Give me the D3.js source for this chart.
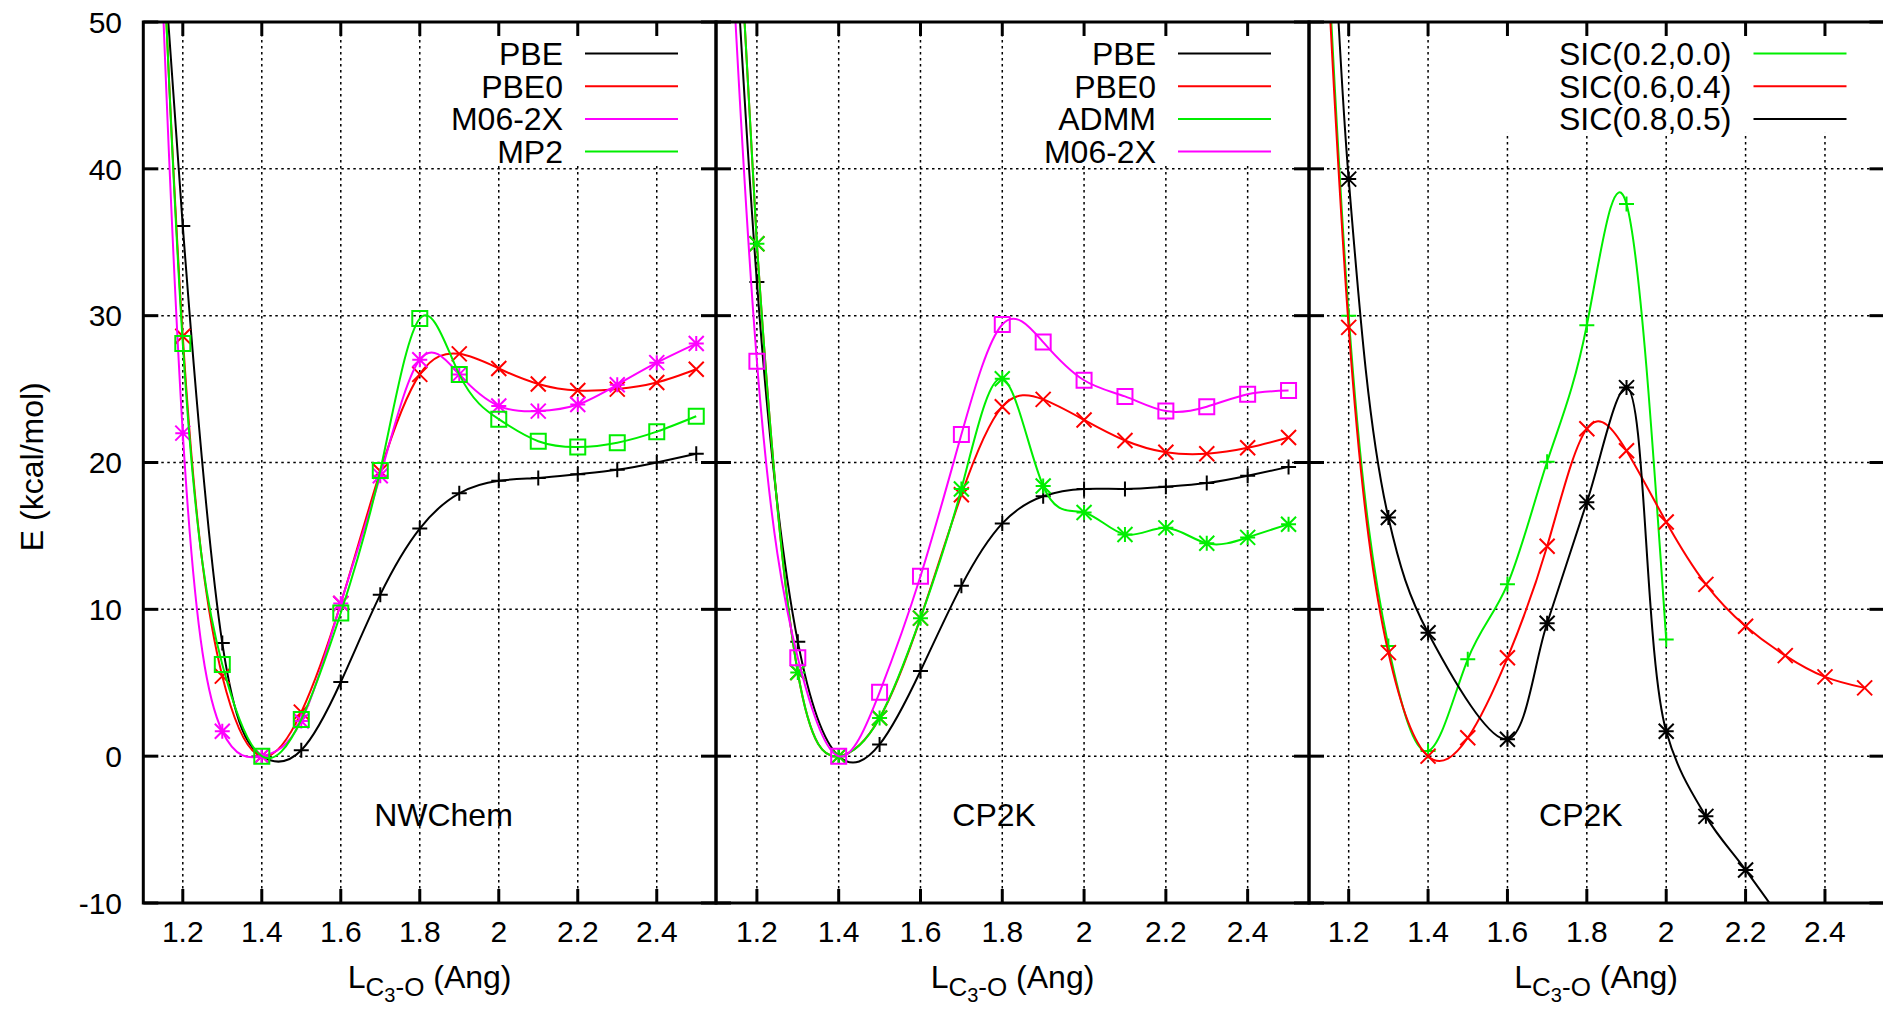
<!DOCTYPE html>
<html lang="en">
  <head>
    <meta charset="UTF-8"/>
    <title>C3-O scans</title>
    <script src="https://d3js.org/d3.v7.min.js"></script>
    <style>
        body {
          margin: 0;
          background: #fff;
        }
        text {
          font-family: "Liberation Sans", Arial, sans-serif;
          fill: #000;
        }
        .grid line {
          stroke: #000;
          stroke-width: 1.5;
          stroke-dasharray: 2.5, 3.5;
        }
        .frame {
          fill: none;
          stroke: #000;
          stroke-width: 3;
        }
        .tick {
          stroke: #000;
          stroke-width: 3;
        }
        .curve {
          fill: none;
          stroke-width: 2;
        }
        .marker {
          fill: none;
          stroke-width: 2;
        }
    </style>
  </head>
  <body>
    <script>
        // tick values and labels
        const xTicks = [1.2, 1.4, 1.6, 1.8, 2.0, 2.2, 2.4]
        const xTickLabels = ["1.2", "1.4", "1.6", "1.8", "2", "2.2", "2.4"]
        const yTicks = [-10, 0, 10, 20, 30, 40, 50]
        const yTickLabels = ["-10", "0", "10", "20", "30", "40", "50"]

        // bond lengths (Ang)
        const xFull = [1.1, 1.2, 1.3, 1.4, 1.5, 1.6, 1.7, 1.8, 1.9, 2.0, 2.1, 2.2, 2.3, 2.4, 2.5]
        const xTo20 = [1.1, 1.2, 1.3, 1.4, 1.5, 1.6, 1.7, 1.8, 1.9, 2.0]
        const xSic08 = [1.1, 1.2, 1.3, 1.4, 1.6, 1.7, 1.8, 1.9, 2.0, 2.1, 2.2, 2.3]

        // NWChem panel (kcal/mol)
        const nwPBE   = [74, 36.1, 7.7, 0, 0.4, 5.05, 11.0, 15.5, 17.9, 18.75, 18.95, 19.2, 19.5, 20.0, 20.6]
        const nwPBE0  = [88, 28.6, 5.45, 0, 3.0, 10.4, 19.4, 26.0, 27.4, 26.4, 25.35, 24.9, 25.0, 25.45, 26.35]
        const nwM062X = [88, 22.0, 1.7, 0, 2.4, 10.4, 19.1, 27.0, 26.0, 23.85, 23.5, 23.95, 25.3, 26.8, 28.1]
        const nwMP2   = [90, 28.1, 6.25, 0, 2.5, 9.75, 19.45, 29.8, 26.0, 22.95, 21.45, 21.05, 21.35, 22.1, 23.15]

        // CP2K panel
        const cpPBE   = [80, 32.3, 7.8, 0, 0.8, 5.8, 11.6, 15.85, 17.7, 18.2, 18.2, 18.35, 18.6, 19.1, 19.7]
        const cpPBE0  = [85, 34.9, 5.7, 0, 2.6, 9.4, 17.8, 23.8, 24.3, 22.9, 21.5, 20.7, 20.6, 21.0, 21.7]
        const cpADMM  = [85, 34.9, 5.7, 0, 2.6, 9.4, 18.2, 25.7, 18.4, 16.6, 15.1, 15.55, 14.5, 14.9, 15.8]
        const cpM062X = [76, 26.9, 6.7, 0, 4.35, 12.25, 21.9, 29.4, 28.2, 25.6, 24.5, 23.5, 23.8, 24.65, 24.9]

        // CP2K SIC panel
        const sic02 = [82, 30.0, 7.5, 0.35, 6.6, 11.7, 20.05, 29.35, 37.6, 7.95]
        const sic06 = [80, 29.2, 7.05, 0, 1.25, 6.7, 14.3, 22.3, 20.8, 15.95, 11.7, 8.85, 6.85, 5.4, 4.65]
        const sic08 = [98, 39.3, 16.25, 8.4, 1.15, 9.05, 17.3, 25.1, 1.7, -4.1, -7.75, -11.5]

        const BLACK = "#000", RED = "#ff0000", GREEN = "#00ee00", MAGENTA = "#ff00ff"

        const panels = [
          {left: 143.3, right: 716, label: "NWChem", labelX: 1.86, series: [
            {name: "PBE", x: xFull, y: nwPBE, color: BLACK, marker: "plus"},
            {name: "PBE0", x: xFull, y: nwPBE0, color: RED, marker: "cross"},
            {name: "M06-2X", x: xFull, y: nwM062X, color: MAGENTA, marker: "star"},
            {name: "MP2", x: xFull, y: nwMP2, color: GREEN, marker: "square"}
          ]},
          {left: 716, right: 1309, label: "CP2K", labelX: 1.78, series: [
            {name: "PBE", x: xFull, y: cpPBE, color: BLACK, marker: "plus"},
            {name: "PBE0", x: xFull, y: cpPBE0, color: RED, marker: "cross"},
            {name: "ADMM", x: xFull, y: cpADMM, color: GREEN, marker: "star"},
            {name: "M06-2X", x: xFull, y: cpM062X, color: MAGENTA, marker: "square"}
          ]},
          {left: 1309, right: 1884.5, label: "CP2K", labelX: 1.785, series: [
            {name: "SIC(0.2,0.0)", x: xTo20, y: sic02, color: GREEN, marker: "plus"},
            {name: "SIC(0.6,0.4)", x: xFull, y: sic06, color: RED, marker: "cross"},
            // no point at 1.5 here, so use a spacing-aware spline
            {name: "SIC(0.8,0.5)", x: xSic08, y: sic08, color: BLACK, marker: "star", curve: d3.curveCatmullRom.alpha(0.5)}
          ]}
        ]

        const width = 1883, height = 1011
        const plotTop = 22, plotBottom = 903
        const tickLen = 14
        const ms = 7.5 // marker half size

        const yScale = d3.scaleLinear().domain([-10, 50]).range([plotBottom, plotTop])

        const svg = d3.select("body").append("svg")
            .attr("width", width)
            .attr("height", height)

        // marker paths (gnuplot style point types)
        function markerPath(type, s) {
          const plus = `M${-s},0H${s}M0,${-s}V${s}`
          const cross = `M${-s},${-s}L${s},${s}M${-s},${s}L${s},${-s}`
          if (type === "plus") return plus
          if (type === "cross") return cross
          if (type === "star") return plus + cross
          return `M${-s},${-s}H${s}V${s}H${-s}Z`
        }

        panels.forEach((p, i) => {
          const xScale = d3.scaleLinear().domain([1.1, 2.55]).range([p.left, p.right])
          const g = svg.append("g")

          g.append("clipPath").attr("id", `clip${i}`)
            .append("rect")
              .attr("x", p.left).attr("y", plotTop)
              .attr("width", p.right - p.left).attr("height", plotBottom - plotTop)

          // grid
          const grid = g.append("g").attr("class", "grid")
          grid.selectAll(".gx").data(xTicks).join("line")
              .attr("x1", d => xScale(d)).attr("x2", d => xScale(d))
              .attr("y1", plotTop).attr("y2", plotBottom)
          grid.selectAll(".gy").data(yTicks.slice(1, -1)).join("line")
              .attr("x1", p.left).attr("x2", p.right)
              .attr("y1", d => yScale(d)).attr("y2", d => yScale(d))

          // curves and points
          const plot = g.append("g").attr("clip-path", `url(#clip${i})`)

          p.series.forEach(s => {
            const pts = s.x.map((x, k) => [x, s.y[k]])
            const line = d3.line()
                .x(d => xScale(d[0]))
                .y(d => yScale(d[1]))
                .curve(s.curve || d3.curveNatural)
            plot.append("path")
                .attr("class", "curve")
                .attr("stroke", s.color)
                .attr("d", line(pts))
            plot.append("g").selectAll("path").data(pts).join("path")
                .attr("class", "marker")
                .attr("stroke", s.color)
                .attr("transform", d => `translate(${xScale(d[0])},${yScale(d[1])})`)
                .attr("d", markerPath(s.marker, ms))
          })

          // opaque key
          const rowH = 32.7, row0 = 53.5
          const nameChars = d3.max(p.series, s => s.name.length)
          g.append("rect")
              .attr("x", p.right - 153 - nameChars * 20.5)
              .attr("y", plotTop + 2)
              .attr("width", 153 + nameChars * 20.5 - 10)
              .attr("height", row0 - plotTop + (p.series.length - 1) * rowH + 14 - 2)
              .attr("fill", "#fff")

          p.series.forEach((s, k) => {
            const y = row0 + k * rowH
            g.append("text")
                .attr("x", p.right - 153)
                .attr("y", y)
                .attr("dy", "0.36em")
                .attr("text-anchor", "end")
                .attr("font-size", 32)
                .text(s.name)
            g.append("line")
                .attr("x1", p.right - 131).attr("x2", p.right - 38)
                .attr("y1", y).attr("y2", y)
                .attr("stroke", s.color)
                .attr("stroke-width", 2)
          })

          // frame and ticks
          g.append("rect").attr("class", "frame")
              .attr("x", p.left).attr("y", plotTop)
              .attr("width", p.right - p.left).attr("height", plotBottom - plotTop)

          const ticks = g.append("g")
          xTicks.forEach(t => {
            ticks.append("line").attr("class", "tick")
                .attr("x1", xScale(t)).attr("x2", xScale(t))
                .attr("y1", plotBottom).attr("y2", plotBottom - tickLen)
            ticks.append("line").attr("class", "tick")
                .attr("x1", xScale(t)).attr("x2", xScale(t))
                .attr("y1", plotTop).attr("y2", plotTop + tickLen)
          })
          yTicks.forEach(t => {
            ticks.append("line").attr("class", "tick")
                .attr("x1", p.left).attr("x2", p.left + tickLen + 1)
                .attr("y1", yScale(t)).attr("y2", yScale(t))
            ticks.append("line").attr("class", "tick")
                .attr("x1", p.right).attr("x2", p.right - tickLen - 1)
                .attr("y1", yScale(t)).attr("y2", yScale(t))
          })

          // x tick labels
          g.append("g").selectAll("text").data(xTicks).join("text")
              .attr("x", d => xScale(d))
              .attr("y", 942)
              .attr("text-anchor", "middle")
              .attr("font-size", 30)
              .text((d, k) => xTickLabels[k])

          // panel label
          g.append("text")
              .attr("x", xScale(p.labelX))
              .attr("y", 826)
              .attr("text-anchor", "middle")
              .attr("font-size", 32)
              .text(p.label)

          // x title: L_{C_3-O} (Ang)
          const xt = g.append("text")
              .attr("x", (p.left + Math.min(p.right, 1883.3)) / 2)
              .attr("y", 988)
              .attr("text-anchor", "middle")
              .attr("font-size", 32)
          xt.append("tspan").text("L")
          xt.append("tspan").attr("font-size", 26).attr("dy", 8).text("C")
          xt.append("tspan").attr("font-size", 20).attr("dy", 6).text("3")
          xt.append("tspan").attr("font-size", 26).attr("dy", -6).text("-O")
          xt.append("tspan").attr("dy", -8).text(" (Ang)")
        })

        // y tick labels (first panel only)
        svg.append("g").selectAll("text").data(yTicks).join("text")
            .attr("x", 122)
            .attr("y", d => yScale(d))
            .attr("dy", "0.36em")
            .attr("text-anchor", "end")
            .attr("font-size", 30)
            .text((d, k) => yTickLabels[k])

        // y title
        svg.append("text")
            .attr("transform", "translate(43, 466.7) rotate(-90)")
            .attr("text-anchor", "middle")
            .attr("font-size", 32)
            .text("E (kcal/mol)")
    </script>
  </body>
</html>
